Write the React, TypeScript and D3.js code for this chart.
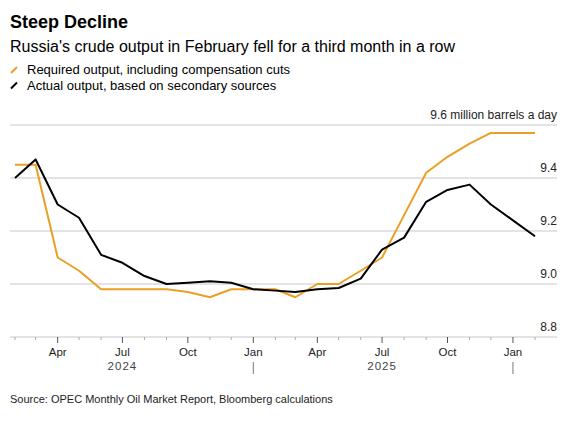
import { useEffect, useRef } from 'react';
import * as d3 from 'd3';

const months = [
  '2024-02', '2024-03', '2024-04', '2024-05', '2024-06', '2024-07', '2024-08',
  '2024-09', '2024-10', '2024-11', '2024-12', '2025-01', '2025-02', '2025-03',
  '2025-04', '2025-05', '2025-06', '2025-07', '2025-08', '2025-09', '2025-10',
  '2025-11', '2025-12', '2026-01', '2026-02',
];

// Required output, including compensation cuts (million barrels a day)
const required = [
  9.45, 9.45, 9.10, 9.05, 8.98, 8.98, 8.98, 8.98, 8.97, 8.95, 8.98, 8.98, 8.98,
  8.95, 9.00, 9.00, 9.05, 9.10, 9.26, 9.42, 9.48, 9.53, 9.57, 9.57, 9.57,
];

// Actual output, based on secondary sources
const actual = [
  9.40, 9.47, 9.30, 9.25, 9.11, 9.08, 9.03, 9.00, 9.005, 9.01, 9.005, 8.98, 8.975,
  8.97, 8.98, 8.985, 9.02, 9.13, 9.175, 9.31, 9.355, 9.375, 9.30, 9.24, 9.18,
];

const yTicks = [8.8, 9.0, 9.2, 9.4, 9.6];
const yearLabels = [
  { label: '2024', at: '2024-07' },
  { label: '2025', at: '2025-07' },
];
const yearBreaks = ['2025-01', '2026-01'];

const ORANGE = '#eb9f24';
const FONT = '"Liberation Sans", Arial, Helvetica, sans-serif';

const parse = d3.timeParse('%Y-%m');

export default function App() {
  const svgRef = useRef<SVGSVGElement>(null);

  useEffect(() => {
    if (!svgRef.current) return;
    const svg = d3.select(svgRef.current);
    svg.selectAll('*').remove();

    const dates = months.map(m => parse(m) as Date);
    const plotLeft = 10;
    const plotRight = 557;

    const x = d3.scaleTime()
      .domain([dates[0], dates[dates.length - 1]])
      .range([15, 535]);

    const y = d3.scaleLinear()
      .domain([8.8, 9.6])
      .range([337, 125]);

    // Titles
    svg.append('text')
      .attr('x', 10).attr('y', 28)
      .attr('font-size', 18).attr('font-weight', 700)
      .attr('fill', '#000')
      .text('Steep Decline');

    svg.append('text')
      .attr('x', 10).attr('y', 52)
      .attr('font-size', 16)
      .attr('fill', '#000')
      .text("Russia's crude output in February fell for a third month in a row");

    // Legend
    const legend = [
      { label: 'Required output, including compensation cuts', color: ORANGE },
      { label: 'Actual output, based on secondary sources', color: '#000' },
    ];
    legend.forEach((l, i) => {
      const by = 74 + i * 15.5;
      svg.append('line')
        .attr('x1', 11).attr('y1', by - 1)
        .attr('x2', 17).attr('y2', by - 7)
        .attr('stroke', l.color).attr('stroke-width', 2);
      svg.append('text')
        .attr('x', 27).attr('y', by)
        .attr('font-size', 13).attr('fill', '#000')
        .text(l.label);
    });

    // Gridlines
    const grid = svg.append('g');
    yTicks.forEach(t => {
      grid.append('line')
        .attr('x1', plotLeft).attr('x2', plotRight)
        .attr('y1', y(t)).attr('y2', y(t))
        .attr('stroke', '#c8c8c8').attr('stroke-width', 1);
      if (t !== 9.6) {
        grid.append('text')
          .attr('x', plotRight).attr('y', y(t) - 6)
          .attr('text-anchor', 'end')
          .attr('font-size', 12).attr('fill', '#222')
          .text(d3.format('.1f')(t));
      }
    });
    svg.append('text')
      .attr('x', plotRight).attr('y', y(9.6) - 6)
      .attr('text-anchor', 'end')
      .attr('font-size', 12).attr('fill', '#222')
      .text('9.6 million barrels a day');

    // X ticks
    const axis = svg.append('g');
    dates.forEach(d => {
      const major = d.getMonth() % 3 === 0;
      axis.append('line')
        .attr('x1', x(d)).attr('x2', x(d))
        .attr('y1', y(8.8)).attr('y2', y(8.8) + (major ? 6 : 3))
        .attr('stroke', major ? '#555' : '#aaa').attr('stroke-width', 1);
      if (major) {
        axis.append('text')
          .attr('x', x(d)).attr('y', 356)
          .attr('text-anchor', 'middle')
          .attr('font-size', 11.5).attr('fill', '#222')
          .text(d3.timeFormat('%b')(d));
      }
    });
    yearLabels.forEach(yl => {
      axis.append('text')
        .attr('x', x(parse(yl.at) as Date)).attr('y', 370)
        .attr('text-anchor', 'middle')
        .attr('font-size', 11.5).attr('fill', '#444')
        .attr('letter-spacing', 1)
        .text(yl.label);
    });
    yearBreaks.forEach(b => {
      const bx = x(parse(b) as Date);
      axis.append('line')
        .attr('x1', bx).attr('x2', bx)
        .attr('y1', 362).attr('y2', 374)
        .attr('stroke', '#777').attr('stroke-width', 1);
    });

    // Lines
    const line = d3.line<number>()
      .x((_, i) => x(dates[i]))
      .y(v => y(v));

    svg.append('path')
      .datum(required)
      .attr('fill', 'none')
      .attr('stroke', ORANGE)
      .attr('stroke-width', 2)
      .attr('stroke-linejoin', 'round')
      .attr('d', line);

    svg.append('path')
      .datum(actual)
      .attr('fill', 'none')
      .attr('stroke', '#000')
      .attr('stroke-width', 2)
      .attr('stroke-linejoin', 'round')
      .attr('d', line);

    // Source
    svg.append('text')
      .attr('x', 10).attr('y', 403)
      .attr('font-size', 11).attr('fill', '#222')
      .text('Source: OPEC Monthly Oil Market Report, Bloomberg calculations');
  }, []);

  return (
    <svg
      ref={svgRef}
      width={584}
      height={425}
      style={{ position: 'absolute', left: 0, top: 0, background: '#fff', fontFamily: FONT }}
    />
  );
}
